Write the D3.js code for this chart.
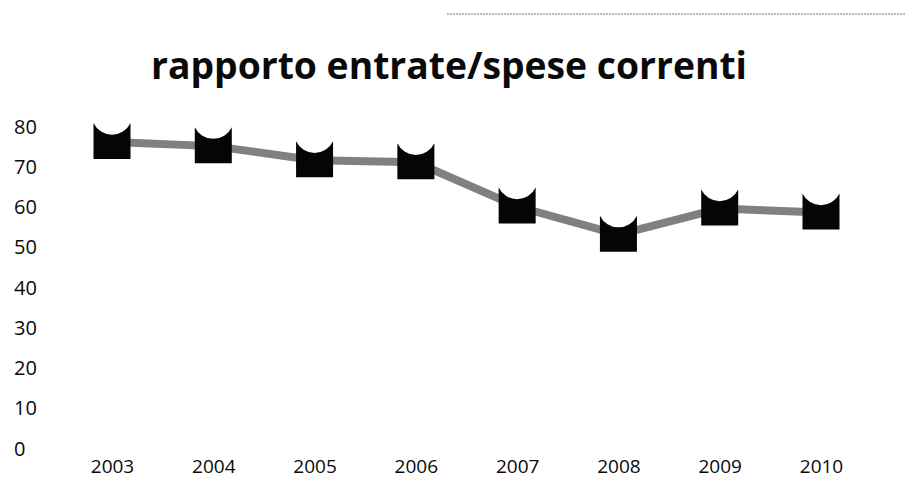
<!DOCTYPE html>
<html>
<head>
<meta charset="utf-8">
<script src="https://cdn.jsdelivr.net/npm/d3@7"></script>
<style>
  body { margin: 0; background: #fff; }
  text { font-family: "Open Sans", "Noto Sans", sans-serif; fill: #0a0a0a; }
</style>
</head>
<body>
<svg id="chart"></svg>
<script>
// data
const years = ["2003", "2004", "2005", "2006", "2007", "2008", "2009", "2010"]
const ratio = [76, 75, 71.5, 71, 60, 53, 59.5, 58.5]
const yTicks = [0, 10, 20, 30, 40, 50, 60, 70, 80]

const width = 906, height = 494

const svg = d3.select('#chart')
    .attr('width', width)
    .attr('height', height)

// scales
const x = d3.scalePoint()
    .domain(years)
    .range([112, 821])

const y = d3.scaleLinear()
    .domain([0, 80])
    .range([448, 126])

// title
svg.append('text')
    .attr('x', 151)
    .attr('y', 79)
    .attr('textLength', 596)
    .attr('lengthAdjust', 'spacingAndGlyphs')
    .style('font-size', '37px')
    .style('font-weight', 'bold')
    .text('rapporto entrate/spese correnti')

// scan artifact dotted line at top
svg.append('line')
    .attr('x1', 447).attr('x2', 906)
    .attr('y1', 14).attr('y2', 14)
    .attr('stroke', '#777')
    .attr('stroke-width', 1.2)
    .attr('stroke-dasharray', '2,1')

// y axis, labels only
const yAxis = svg.append('g')
    .attr('transform', 'translate(14,0)')
    .call(d3.axisLeft(y).tickValues(yTicks).tickSize(0).tickPadding(0))
yAxis.select('.domain').remove()
yAxis.selectAll('text')
    .attr('text-anchor', 'start')
    .attr('dy', '0.35em')
    .style('font-size', '20px')
    .style('font-weight', '500')

// x axis, labels only
const xAxis = svg.append('g')
    .attr('transform', 'translate(0,459)')
    .call(d3.axisBottom(x).tickSize(0).tickPadding(0))
xAxis.select('.domain').remove()
xAxis.selectAll('text')
    .attr('dy', '0.71em')
    .style('font-size', '19px')
    .style('font-weight', '500')

const pts = years.map((d, i) => ({ year: d, value: ratio[i] }))

// grey line
const line = d3.line()
    .x(d => x(d.year))
    .y(d => y(d.value))

svg.append('path')
    .datum(pts)
    .attr('fill', 'none')
    .attr('stroke', '#808080')
    .attr('stroke-width', 8)
    .attr('d', line)

// black square markers with a scooped top
const marker = 'M-18.5,-19 L-18.5,17 L18.5,17 L18.5,-19 A20.5,20.5 0 0 1 -18.5,-19 Z'

svg.selectAll('path.mark')
    .data(pts)
    .join('path')
    .attr('class', 'mark')
    .attr('transform', d => `translate(${x(d.year)},${y(d.value)})`)
    .attr('d', marker)
    .attr('fill', '#050505')
</script>
</body>
</html>
